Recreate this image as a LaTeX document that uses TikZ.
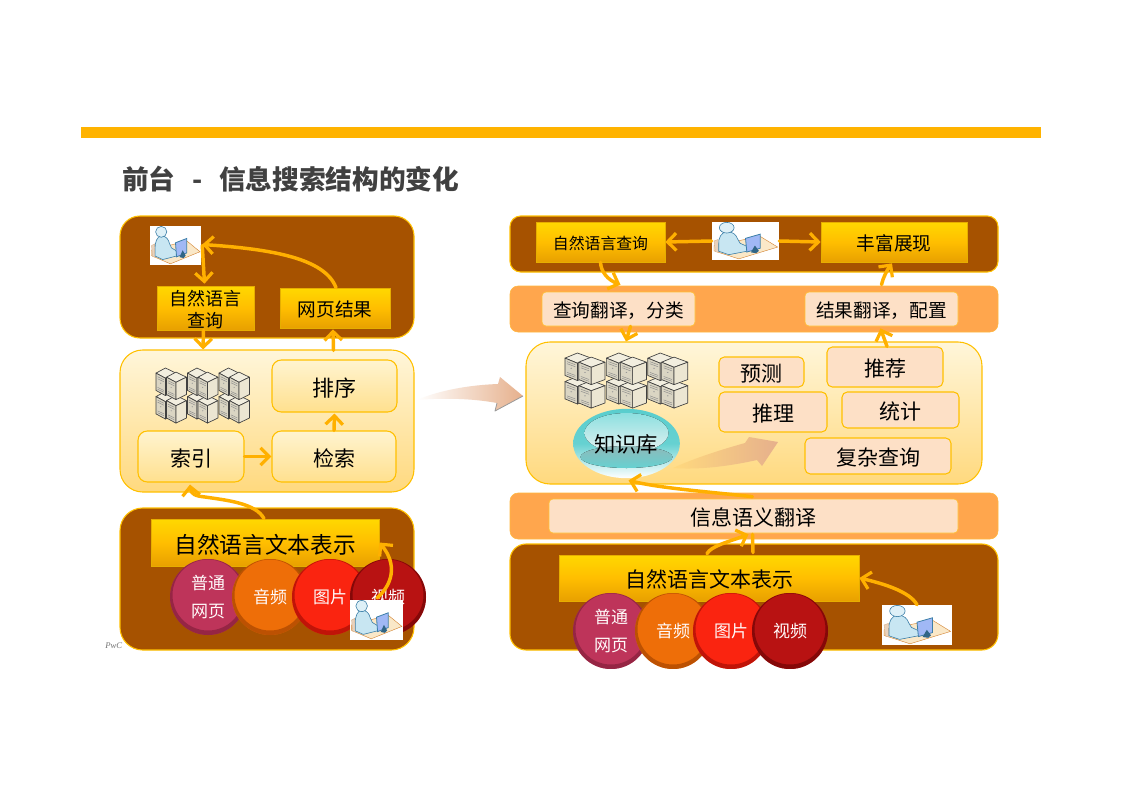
\documentclass[tikz,border=0pt]{standalone}
\usepackage{fontspec}
\setmainfont{Noto Sans CJK SC}
\newfontfamily\pwcfont{Liberation Serif}
\usetikzlibrary{arrows.meta,calc,shapes.geometric}
\definecolor{brownp}{HTML}{A65200}
\definecolor{edgeg}{HTML}{FFC000}
\definecolor{bandc}{HTML}{FFA64D}
\definecolor{arrc}{HTML}{FFB000}
\definecolor{pinkb}{HTML}{FDE0C6}
\definecolor{goldT}{HTML}{FFD800}
\definecolor{goldM}{HTML}{FFBE00}
\definecolor{goldB}{HTML}{E8A000}
\definecolor{goldE}{HTML}{E6AE00}
\definecolor{lightT}{HTML}{FFF6DA}
\definecolor{lightB}{HTML}{FFD97E}
\definecolor{softT}{HTML}{FFF4D0}
\definecolor{softB}{HTML}{FFE08E}
\definecolor{tanE}{HTML}{E6B08C}
\definecolor{greenM}{HTML}{C2D0B2}
\definecolor{olive}{HTML}{B8B88C}
\definecolor{pinkA}{HTML}{BE345A}\definecolor{pinkB}{HTML}{86203C}
\definecolor{orA}{HTML}{EE6E08}\definecolor{orB}{HTML}{A84600}
\definecolor{redA}{HTML}{FA2410}\definecolor{redB}{HTML}{A80E06}
\definecolor{drA}{HTML}{B81212}\definecolor{drB}{HTML}{700404}
\definecolor{deskc}{HTML}{FAE8C8}
\definecolor{bodyc}{HTML}{C8E6F2}
\definecolor{iconl}{HTML}{3C7FA8}
\definecolor{cubeT}{HTML}{F2EEDF}
\definecolor{cubeL}{HTML}{DAD5C3}
\definecolor{cubeR}{HTML}{ECE6D2}
\tikzset{
  x=0.75pt,y=-0.75pt,
  panelbrown/.style={draw=edgeg,line width=0.8pt,fill=brownp},
  panellight/.style={draw=edgeg,line width=0.8pt,top color=lightT,bottom color=lightB},
  bandorange/.style={fill=bandc,draw=bandc!80!yellow},
  goldbox/.style={draw=goldE,line width=0.5pt,top color=goldT,bottom color=goldB,middle color=goldM},
  softbox/.style={draw=edgeg,line width=0.8pt,rounded corners=7pt,top color=softT,bottom color=softB},
  pinkbox/.style={draw=edgeg,line width=0.8pt,fill=pinkb,rounded corners=4pt},
  plainpink/.style={fill=pinkb,rounded corners=3pt,draw=bandc!70!yellow,line width=0.5pt},
  arr/.style={draw=arrc,line width=2.6pt,line cap=round,-{Straight Barb[length=6.5pt,width=13pt,line width=2.4pt]}},
  sph/.style={circle,minimum size=57pt,inner sep=0pt,text=white!92!pink,align=center,font=\fontsize{12.75}{21}\selectfont},
  fa/.style={font=\fontsize{11.9}{15.5}\selectfont},
  fb/.style={font=\fontsize{14}{17}\selectfont},
  fc/.style={font=\fontsize{15.75}{19}\selectfont},
  fd/.style={font=\fontsize{17}{20}\selectfont}
}
% box in pixel corners
\newcommand{\pxbox}[7]{\node[#2,minimum width={(#5-#3)*0.75pt},minimum height={(#6-#4)*0.75pt},inner sep=0pt,text=black] (#1) at ({(#3+#5)/2},{(#4+#6)/2}) {\raisebox{-0.23em}[\height][\depth]{\begin{tabular}{@{}c@{}}#7\end{tabular}}};}
% sphere: flat disc with darker rim, heavier at the bottom
\newcommand{\sphere}[6]{%
  \node[sph,fill=#4] (#1) at (#2,#3) {#6};
  \fill[#5,opacity=0.7,even odd rule] (#1.center) circle (38) ($(#1.center)+(0,-2)$) circle (35.5);}
% user icon
\newcommand{\usericon}[5]{%
  \node[fill=white,inner sep=0pt,minimum width={(#4-#2)*0.75pt},minimum height={(#5-#3)*0.75pt}] (#1) at ({(#2+#4)/2},{(#3+#5)/2}) {};
  \begin{scope}[shift={(#2,#3)},xscale={(#4-#2)/100},yscale={(#5-#3)/100}]
    \fill[draw=brown!70!orange,line width=0.3pt,fill=deskc] (3,62)--(72,38)--(98,66)--(40,97)--(3,76)--cycle;
    \fill[draw=brown!60,line width=0.3pt,fill=brown!35!white] (3,50)--(5,78)--(10,80)--(9,46)--cycle;
    \draw[fill=bodyc,draw=iconl,line width=0.45pt] (10,77) -- (10,60) .. controls (9,42) and (14,27) .. (22,25) .. controls (32,26) and (36,34) .. (38,44) -- (42,56) -- (52,64) -- (52,77) -- (25,86) -- cycle;
    \draw[fill=bodyc!60!white,draw=iconl,line width=0.45pt] (22,15) ellipse [x radius=11,y radius=14];
    \draw[fill=bodyc!80!blue,draw=iconl,line width=0.6pt] (50,43)--(72,32)--(72,69)--(52,79)--cycle;
    \fill[iconl!80!black] (58,80)--(64,62)--(70,76)--(66,82)--cycle;
  \end{scope}}
% one server cube
\newcommand{\scube}[2]{%
  \begin{scope}[shift={(#1,#2)}]
    \draw[fill=cubeT,draw=black!75,line width=0.5pt,line join=round] (0,4)--(9,-1)--(19,4)--(9,9)--cycle;
    \draw[fill=cubeL,draw=black!75,line width=0.5pt,line join=round] (0,4)--(9,9)--(9,26)--(0,21)--cycle;
    \draw[fill=cubeR,draw=black!75,line width=0.5pt,line join=round] (9,9)--(19,4)--(19,21)--(9,26)--cycle;
    \draw[black!45,line width=0.35pt] (1.5,7.5)--(7.5,10.5) (1.5,9.5)--(7.5,12.5) (1.5,18)--(7.5,21) (1.5,19.8)--(7.5,22.8);
    \fill[black!40] (4.5,14) circle (0.6);
  \end{scope}}
\newcommand{\servers}[4]{%
  \begin{scope}[shift={(#1,#2)},xscale={#3},yscale={#4}]
    \foreach \k in {0,1,2}{
      \scube{\k*30}{24}\scube{\k*30+10}{28}\scube{\k*30}{1}\scube{\k*30+10}{5}
    }
  \end{scope}}
\begin{document}
\begin{tikzpicture}
\useasboundingbox (0,0) rectangle (1122,793);
\fill[white] (0,0) rectangle (1122,793);
% header
\node[fill=arrc!80!edgeg,minimum width=720pt,minimum height=8.25pt,inner sep=0pt] (bar) at (561,132.5) {};
\node[anchor=west,inner sep=0pt,text=black!75,font=\fontsize{20}{24}\selectfont\bfseries] (title) at (122,179) {前台\hspace{13pt}-\hspace{12pt}信息搜索结构的变化};
\node[anchor=west,inner sep=0pt,text=black!55,font=\fontsize{6.5}{8}\selectfont\pwcfont\itshape] (pwc) at (105,646) {PwC};

% ---------- LEFT ----------
\pxbox{lp1}{panelbrown,rounded corners=15pt}{120}{216}{414}{338}{}
\pxbox{lp2}{panellight,rounded corners=17pt}{120}{350}{414}{492}{}
\pxbox{lp3}{panelbrown,rounded corners=17pt}{120}{508}{414}{650}{}
\usericon{lu1}{150}{226}{201}{265}
\pxbox{lq}{goldbox,font=\fontsize{13.5}{16.5}\selectfont}{157}{288}{254}{328}{自然语言\\查询}
\pxbox{lw}{goldbox,fb}{280}{288}{390}{328}{网页结果}
\servers{156}{368}{1.05}{1.02}
\pxbox{ls}{softbox,font=\fontsize{16.5}{20}\selectfont}{272}{360}{397}{412}{排序}
\pxbox{li}{softbox,fc}{138}{431}{244}{482}{索引}
\pxbox{lr}{softbox,fc}{272}{431}{396}{482}{检索}
\pxbox{lt}{goldbox,fd}{151}{519}{379}{566}{自然语言文本表示}
\sphere{lc1}{208}{597}{pinkA}{pinkB}{普通\\网页}
\sphere{lc2}{270}{597}{orA}{orB}{音频}
\sphere{lc3}{330}{597}{redA}{redB}{图片}
\sphere{lc4}{388}{597}{drA}{drB}{视频}
\usericon{lu3}{350}{600}{403}{640}
\draw[arr] ($(lu1.east)+(1,0)$) -- ($(lq.north)+(-1,-2)$);
\draw[arr] ($(lw.north)+(1,0)$) .. controls (325,258) and (270,249) .. ($(lu1.east)+(1,-1)$);
\draw[arr] ($(lq.south)+(-2,0)$) -- ($(lp2.north)+(-64,0)$);
\draw[arr] ($(ls.north)+(-1,-9)$) -- ($(lw.south)+(-2,1)$);
\draw[arr] ($(lr.north)+(0,0)$) -- ($(ls.south)+(0,1)$);
\draw[arr] (li.east) -- (lr.west);
\draw[arr] ($(lt.north)+(-1,0)$) .. controls (256,503) and (225,500) .. (205,497) .. controls (195,496) and (191,494) .. ($(li.south)+(-1,2)$);
\draw[arr] (377,598) .. controls (392,585) and (398,565) .. ($(lt.east)+(0,0)$);

% big arrow
\shade[left color=white,middle color=greenM,right color=tanE]
 (417,400) .. controls (440,390) and (470,385) .. (498,384) -- (500,377) -- (523,396) -- (495,411) -- (497,403) .. controls (470,398) and (440,398) .. cycle;
\draw[black!40,line width=0.6pt,line join=round] (523,396) -- (495,411) -- (497,403);

% ---------- RIGHT ----------
\pxbox{ra}{panelbrown,rounded corners=8pt}{510}{216}{998}{272}{}
\pxbox{rb}{bandorange,rounded corners=6pt}{510}{286}{998}{332}{}
\pxbox{rc}{panellight,rounded corners=18pt}{526}{342}{982}{484}{}
\pxbox{rd}{bandorange,rounded corners=6pt}{510}{493}{998}{539}{}
\pxbox{re}{panelbrown,rounded corners=12pt}{510}{544}{998}{650}{}
\pxbox{rq}{goldbox,fa}{536}{222}{665}{262}{自然语言查询}
\pxbox{rx}{goldbox,fb}{821}{222}{967}{262}{丰富展现}
\usericon{ru1}{712}{222}{779}{260}
\pxbox{rb1}{plainpink,fb}{542}{292}{695}{326}{查询翻译，分类}
\pxbox{rb2}{plainpink,fb}{805}{292}{958}{326}{结果翻译，配置}
\servers{565}{353}{1.38}{1.02}
\pxbox{p1}{pinkbox,fc}{719}{357}{804}{387}{预测}
\pxbox{p2}{pinkbox,fc}{827}{347}{943}{387}{推荐}
\pxbox{p3}{pinkbox,fc}{719}{392}{827}{432}{推理}
\pxbox{p4}{pinkbox,fc}{842}{392}{959}{428}{统计}
\pxbox{p5}{pinkbox,fc}{805}{438}{951}{474}{复杂查询}
% knowledge ball
\node[ellipse,minimum width=80pt,minimum height=52pt,inner sep=0pt,top color=teal!60!cyan!65!white,bottom color=white,middle color=teal!60!cyan!60!white] (ball) at (626.5,443.5) {};
\fill[top color=teal!55!cyan!45!white,bottom color=teal!10!white] (626.5,433) ellipse [x radius=42,y radius=20];
\fill[top color=teal!60!gray!55!white,bottom color=teal!60!cyan!60!white] (626.5,457) ellipse [x radius=46,y radius=11];
\node[inner sep=0pt,text=black,font=\fontsize{16}{19}\selectfont] (balltxt) at (626,444) {知识库};
% inner arrow
\shade[left color=lightB,middle color=olive,right color=tanE]
 (673,468) .. controls (695,458) and (720,450) .. (745,443) -- (749,437) -- (778,442) -- (762,466) -- (757,460) .. controls (730,466) and (700,470) .. cycle;
\pxbox{rt}{plainpink,fc}{549}{499}{958}{533}{信息语义翻译}
\pxbox{rg}{goldbox,fc}{559}{555}{859}{601}{自然语言文本表示}
\begin{scope}
  \clip (500,585) rectangle (850,668);
  \sphere{rc1}{611}{631}{pinkA}{pinkB}{普通\\网页}
  \sphere{rc2}{673}{631}{orA}{orB}{音频}
  \sphere{rc3}{731}{631}{redA}{redB}{图片}
  \sphere{rc4}{790}{631}{drA}{drB}{视频}
\end{scope}
\usericon{ru3}{882}{605}{952}{645}
\draw[arr] (ru1.west) -- (rq.east);
\draw[arr] (ru1.east) -- (rx.west);
\draw[arr] ($(rq.south)+(0,0)$) .. controls (601,272) and (608,280) .. ($(rb1.north)+(2,-7)$);
\draw[arr] ($(rb2.north)+(0,-7)$) .. controls (883,278) and (887,270) .. ($(rx.south)+(-2,1)$);
\draw[arr] ($(rb1.south)+(12,0)$) -- ($(rc.north)+(-128,0)$);
\draw[arr] ($(p2.north)+(2,0)$) -- ($(rb2.south)+(-1,2)$);
\draw[arr] ($(rt.north)+(-1,-2)$) .. controls (700,491) and (660,488) .. ($(ball.south)+(2,2)$);
\draw[arr] ($(rg.north)+(-2,-1)$) .. controls (711,546) and (728,542) .. ($(rt.south)+(-5,1)$);
\draw[arrc,line width=2.6pt,line cap=round] ($(rg.north)+(44,-2)$) -- ($(rt.south)+(-1,1)$);
\draw[arr] ($(ru3.north)+(0,0)$) .. controls (910,592) and (885,584) .. (rg.east);
\end{tikzpicture}
\end{document}
